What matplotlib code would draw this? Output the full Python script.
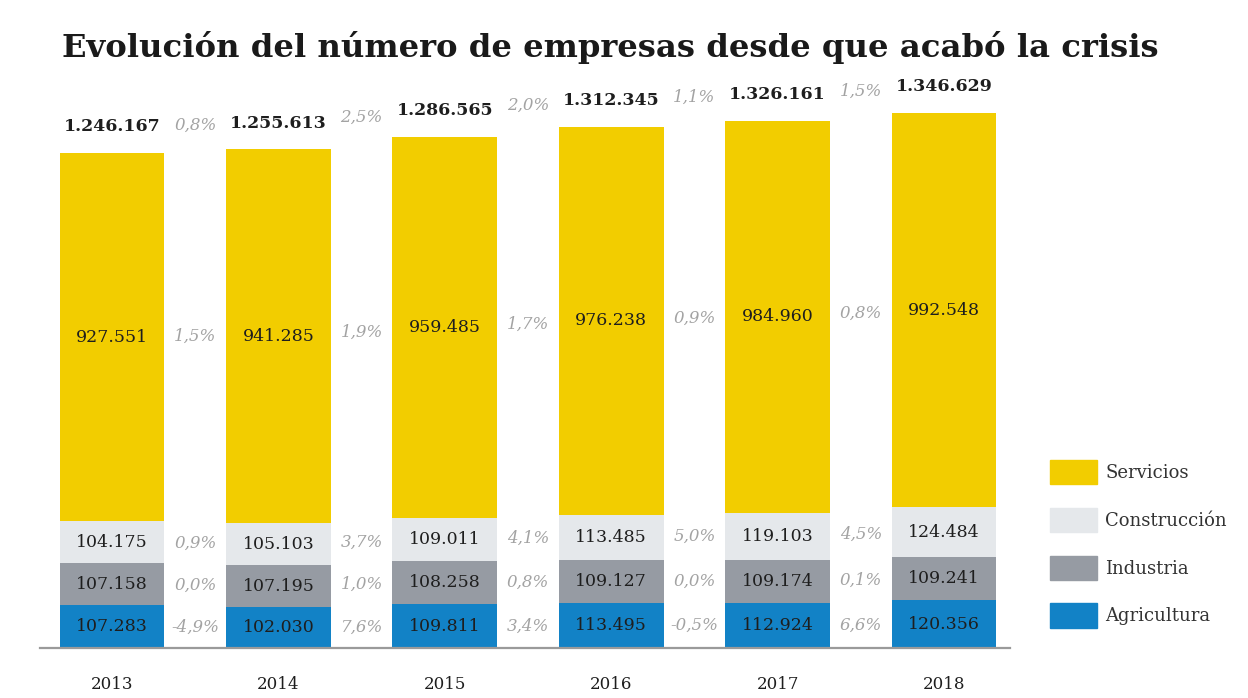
import numpy as np
import matplotlib
matplotlib.use("Agg")
from matplotlib import pyplot as plt
from matplotlib.patches import Patch

plt.rcParams['font.family'] = ['DejaVu Serif']

years = ['2013', '2014', '2015', '2016', '2017', '2018']
agricultura = [107283, 102030, 109811, 113495, 112924, 120356]
industria = [107158, 107195, 108258, 109127, 109174, 109241]
construccion = [104175, 105103, 109011, 113485, 119103, 124484]
servicios = [927551, 941285, 959485, 976238, 984960, 992548]
totales = [1246167, 1255613, 1286565, 1312345, 1326161, 1346629]

# year-on-year change shown between bars
pct_total = ['0,8%', '2,5%', '2,0%', '1,1%', '1,5%']
pct_serv = ['1,5%', '1,9%', '1,7%', '0,9%', '0,8%']
pct_cons = ['0,9%', '3,7%', '4,1%', '5,0%', '4,5%']
pct_ind = ['0,0%', '1,0%', '0,8%', '0,0%', '0,1%']
pct_agri = ['-4,9%', '7,6%', '3,4%', '-0,5%', '6,6%']

c_serv = '#F2CD00'
c_cons = '#E5E8EB'
c_ind = '#969BA3'
c_agri = '#1282C6'
c_pct = '#A3A3A3'
c_txt = '#1E1E1E'


def fmt(v):
    return f"{v:,}".replace(",", ".")


fig = plt.figure(figsize=(12.48, 6.98), dpi=100)
ax = fig.add_axes([40 / 1248, 50 / 698, 970 / 1248, 548 / 698])

x = np.arange(len(years))
w = 0.63
series = [(agricultura, c_agri, pct_agri), (industria, c_ind, pct_ind),
          (construccion, c_cons, pct_cons), (servicios, c_serv, pct_serv)]
bottom = np.zeros(len(years))
for vals, col, pcts in series:
    vals = np.array(vals)
    ax.bar(x, vals, w, bottom=bottom, color=col, linewidth=0)
    mids = bottom + vals / 2
    for i in range(len(years)):
        ax.text(x[i], mids[i], fmt(vals[i]), ha='center', va='center',
                fontsize=12.5, color=c_txt)
    for i in range(len(pcts)):
        ax.text(x[i] + 0.5, (mids[i] + mids[i + 1]) / 2, pcts[i], ha='center',
                va='center', fontsize=12, color=c_pct, style='italic')
    bottom = bottom + vals

for i in range(len(years)):
    ax.annotate(fmt(totales[i]), (x[i], totales[i]), xytext=(0, 19),
                textcoords='offset points', ha='center', va='center',
                fontsize=12.5, color=c_txt, fontweight='bold')
for i in range(len(pct_total)):
    ax.annotate(pct_total[i], (x[i] + 0.5, (totales[i] + totales[i + 1]) / 2),
                xytext=(0, 19), textcoords='offset points', ha='center',
                va='center', fontsize=12, color=c_pct, style='italic')

ax.set_xlim(-0.433, 5.397)
ax.set_ylim(0, 1380000)
ax.set_xticks(x)
ax.set_xticklabels(years, fontsize=12, color=c_txt)
ax.tick_params(axis='x', length=0, pad=20)
ax.set_yticks([])
for s in ['top', 'right', 'left']:
    ax.spines[s].set_visible(False)
ax.spines['bottom'].set_color('#9A9A9A')
ax.spines['bottom'].set_linewidth(1.6)

handles = [Patch(color=c_serv, label='Servicios'),
           Patch(color=c_cons, label='Construcción'),
           Patch(color=c_ind, label='Industria'),
           Patch(color=c_agri, label='Agricultura')]
fig.legend(handles=handles, loc='lower left', bbox_to_anchor=(1034 / 1248, 54 / 698),
           frameon=False, fontsize=13, handlelength=2.6, handleheight=1.7,
           labelspacing=1.3, handletextpad=0.45, labelcolor='#333333')

fig.text(62 / 1248, 1 - 47 / 698, 'Evolución del número de empresas desde que acabó la crisis',
         fontsize=23.2, color='#1a1a1a', va='center', ha='left',
         fontweight='semibold')

fig.savefig('out.png', dpi=100)
